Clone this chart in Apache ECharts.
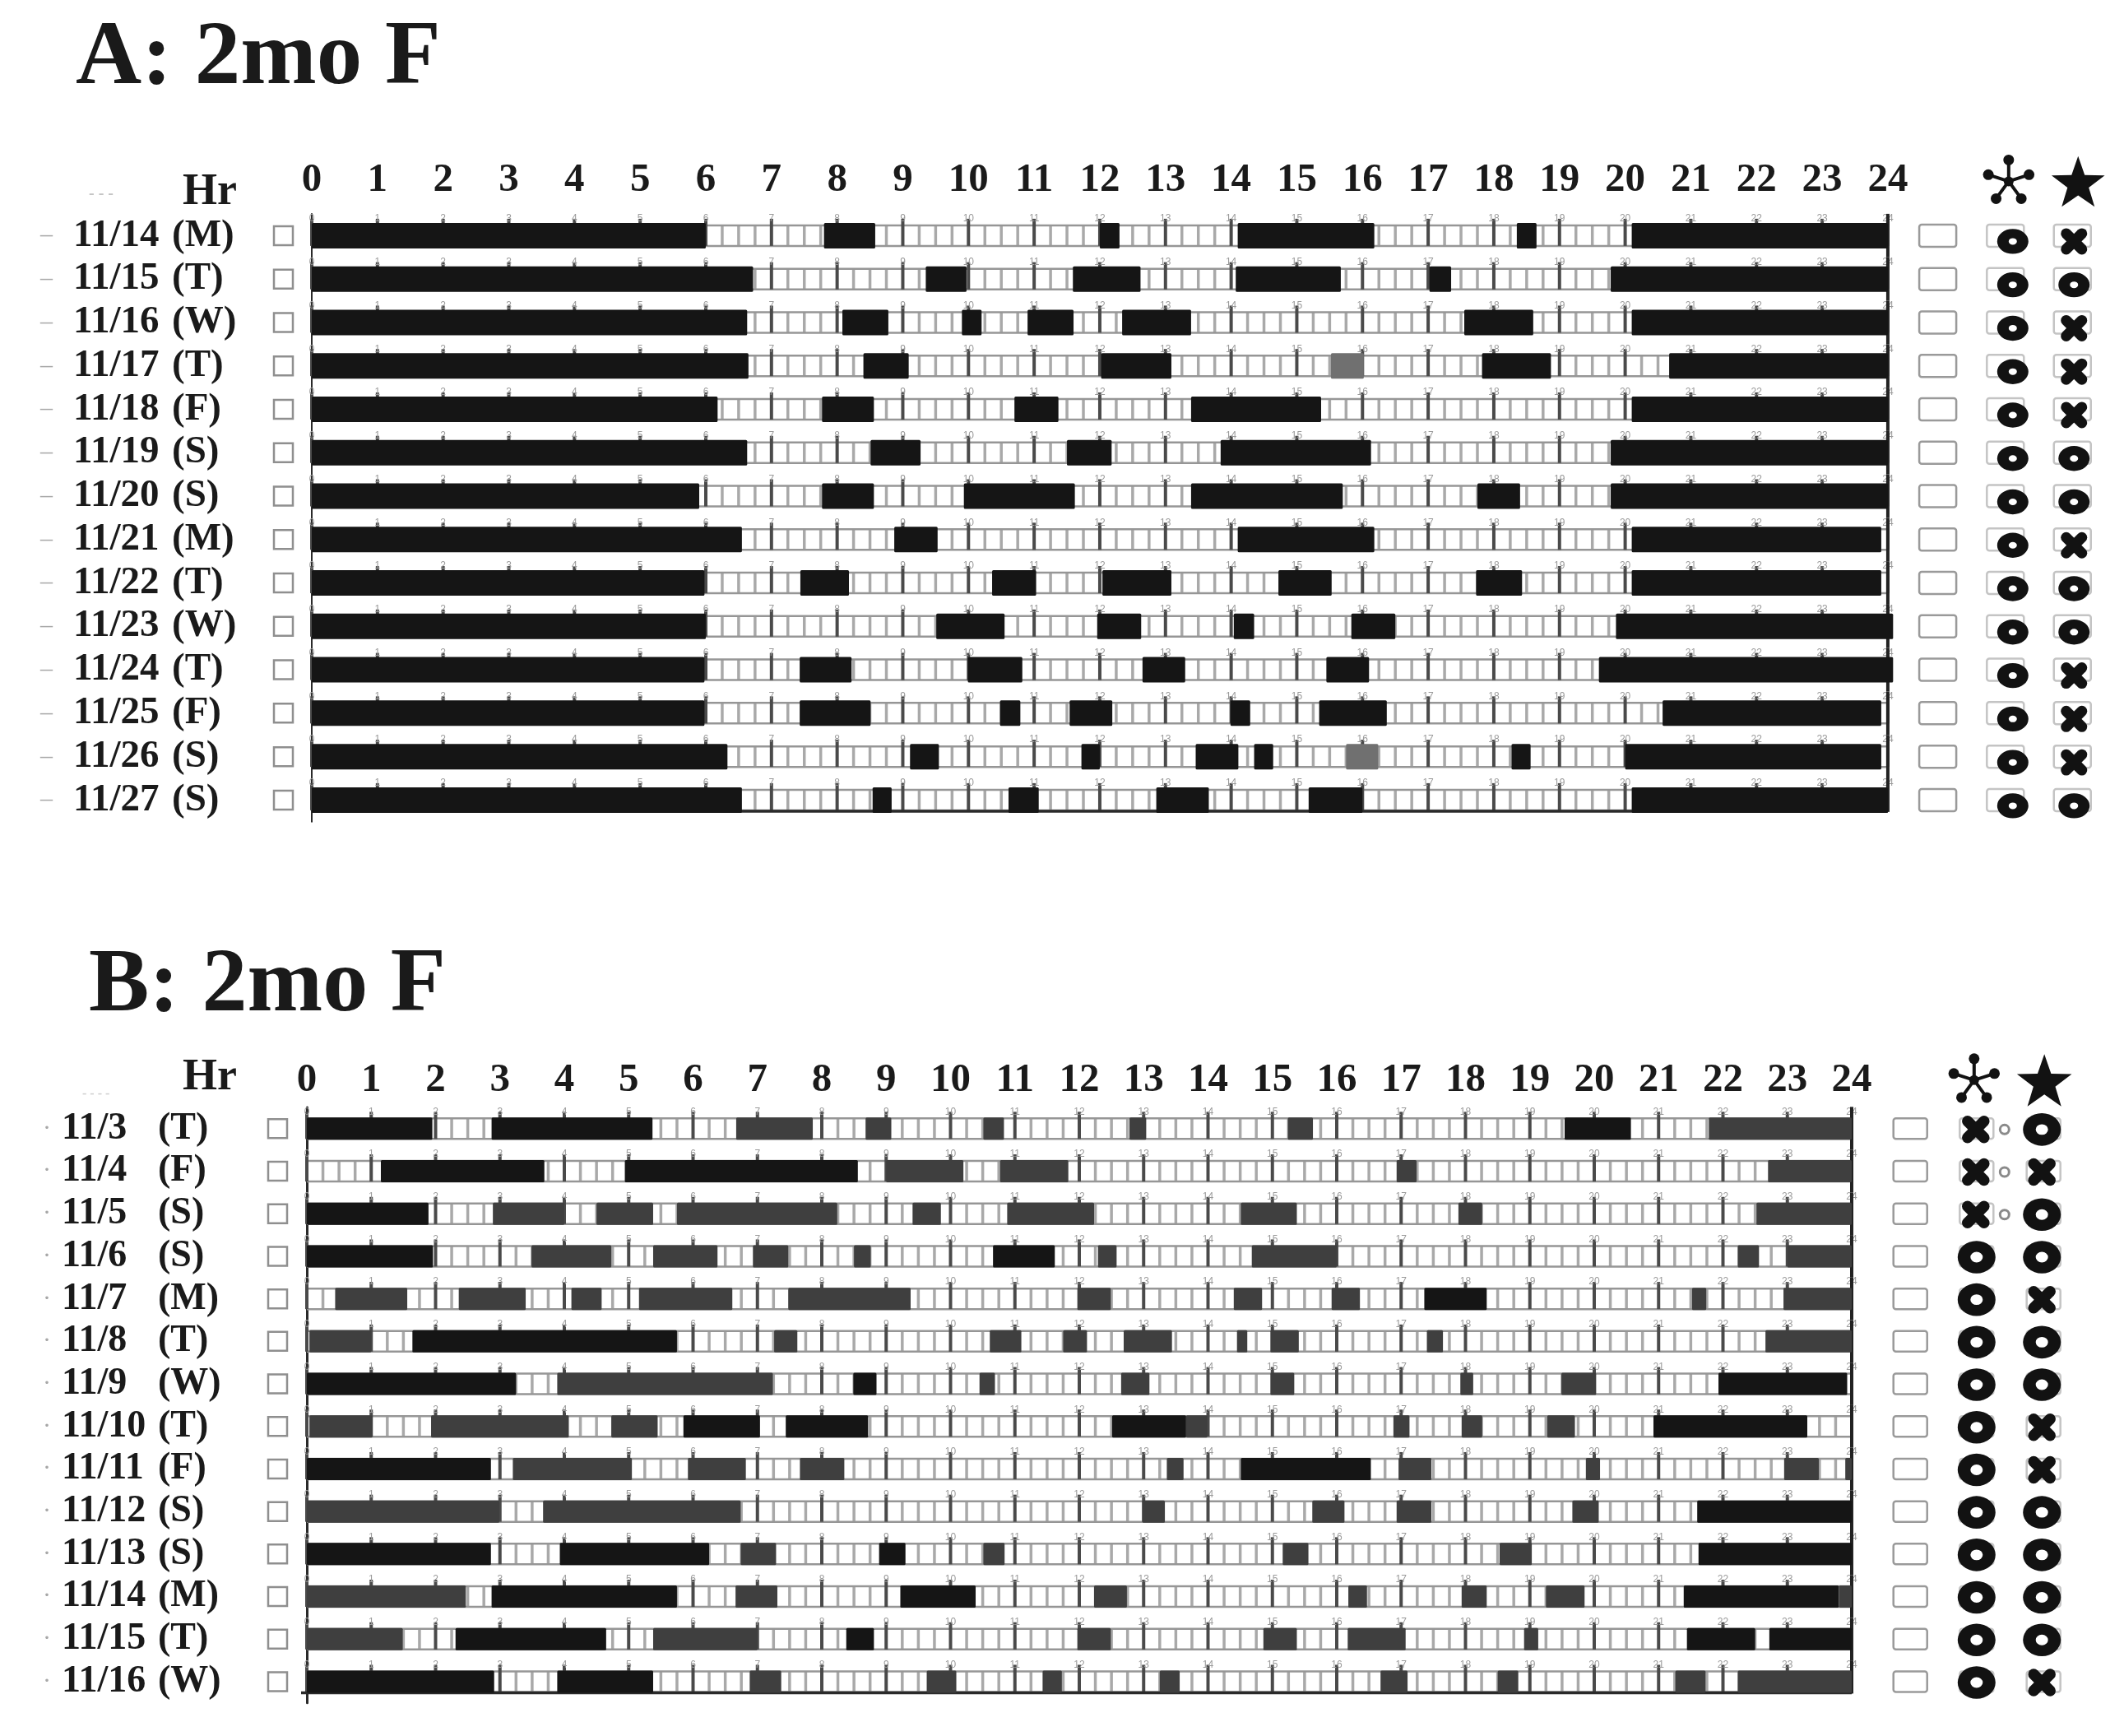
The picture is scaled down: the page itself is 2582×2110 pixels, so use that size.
<!DOCTYPE html>
<html>
<head>
<meta charset="utf-8">
<title>2mo F sleep logs</title>
<script src="https://cdn.jsdelivr.net/npm/echarts@6.0.0/dist/echarts.min.js"></script>
<style>
  html, body { margin: 0; padding: 0; background: #fff; }
  #chart { width: 2582px; height: 2110px; }
</style>
</head>
<body>
<div id="chart"></div>
<script>
// ---- panel A: 11/14 - 11/27 ----
const datesA = ['11/14', '11/15', '11/16', '11/17', '11/18', '11/19', '11/20',
                '11/21', '11/22', '11/23', '11/24', '11/25', '11/26', '11/27'];
const daysA = ['M', 'T', 'W', 'T', 'F', 'S', 'S', 'M', 'T', 'W', 'T', 'F', 'S', 'S'];
// [row, start hour, end hour, shade] shade 0 = black, 1 = grey
const sleepA = [
  [0, 0, 6.0, 0], [0, 7.8, 8.58, 0], [0, 12.0, 12.3, 0], [0, 14.1, 16.18, 0], [0, 18.35, 18.65, 0], [0, 20.1, 24, 0],
  [1, 0, 6.72, 0], [1, 9.35, 9.97, 0], [1, 11.59, 12.62, 0], [1, 14.07, 15.67, 0], [1, 17.02, 17.35, 0], [1, 19.78, 24, 0],
  [2, 0, 6.63, 0], [2, 8.08, 8.78, 0], [2, 9.9, 10.2, 0], [2, 10.9, 11.6, 0], [2, 12.34, 13.39, 0], [2, 17.55, 18.6, 0], [2, 20.1, 24, 0],
  [3, 0, 6.65, 0], [3, 8.4, 9.09, 0], [3, 12.02, 13.09, 0], [3, 15.52, 16.02, 1], [3, 17.82, 18.87, 0], [3, 20.67, 24, 0],
  [4, 0, 6.18, 0], [4, 7.77, 8.56, 0], [4, 10.7, 11.37, 0], [4, 13.39, 15.37, 0], [4, 20.1, 24, 0],
  [5, 0, 6.63, 0], [5, 8.51, 9.27, 0], [5, 11.5, 12.18, 0], [5, 13.84, 16.13, 0], [5, 19.78, 24, 0],
  [6, 0, 5.9, 0], [6, 7.77, 8.56, 0], [6, 9.93, 11.62, 0], [6, 13.39, 15.7, 0], [6, 17.75, 18.4, 0], [6, 19.78, 24, 0],
  [7, 0, 6.55, 0], [7, 8.87, 9.53, 0], [7, 14.1, 16.18, 0], [7, 20.1, 23.9, 0],
  [8, 0, 5.98, 0], [8, 7.44, 8.18, 0], [8, 10.36, 11.03, 0], [8, 12.04, 13.09, 0], [8, 14.72, 15.53, 0], [8, 17.73, 18.43, 0], [8, 20.1, 23.9, 0],
  [9, 0, 6.0, 0], [9, 9.51, 10.55, 0], [9, 11.96, 12.63, 0], [9, 14.04, 14.35, 0], [9, 15.83, 16.5, 0], [9, 19.86, 24.08, 0],
  [10, 0, 5.98, 0], [10, 7.43, 8.22, 0], [10, 9.99, 10.82, 0], [10, 12.65, 13.3, 0], [10, 15.45, 16.1, 0], [10, 19.6, 24.08, 0],
  [11, 0, 5.98, 0], [11, 7.43, 8.51, 0], [11, 10.48, 10.79, 0], [11, 11.54, 12.19, 0], [11, 13.99, 14.29, 0], [11, 15.34, 16.37, 0], [11, 20.57, 23.9, 0],
  [12, 0, 6.33, 0], [12, 9.11, 9.55, 0], [12, 11.72, 12.0, 0], [12, 13.46, 14.11, 0], [12, 14.35, 14.64, 0], [12, 15.75, 16.24, 1], [12, 18.27, 18.56, 0], [12, 20.0, 23.9, 0],
  [13, 0, 6.55, 0], [13, 8.54, 8.83, 0], [13, 10.61, 11.07, 0], [13, 12.86, 13.66, 0], [13, 15.18, 16.0, 0], [13, 20.1, 24, 0]
];
// 'o' ring, 'x' cross, 'xo' cross with small circle
const moleculeA = ['o', 'o', 'o', 'o', 'o', 'o', 'o', 'o', 'o', 'o', 'o', 'o', 'o', 'o'];
const starA = ['x', 'o', 'x', 'x', 'x', 'o', 'o', 'x', 'o', 'o', 'x', 'x', 'x', 'o'];

// ---- panel B: 11/3 - 11/16 ----
const datesB = ['11/3', '11/4', '11/5', '11/6', '11/7', '11/8', '11/9',
                '11/10', '11/11', '11/12', '11/13', '11/14', '11/15', '11/16'];
const daysB = ['T', 'F', 'S', 'S', 'M', 'T', 'W', 'T', 'F', 'S', 'S', 'M', 'T', 'W'];
const sleepB = [
  [0, 0, 1.95, 0], [0, 2.87, 5.37, 0], [0, 6.67, 7.86, 1], [0, 8.68, 9.08, 1], [0, 10.51, 10.83, 1], [0, 12.78, 13.04, 1], [0, 15.24, 15.63, 1], [0, 19.54, 20.57, 0], [0, 21.78, 24, 1],
  [1, 1.15, 3.69, 0], [1, 4.94, 8.56, 0], [1, 9.0, 10.2, 1], [1, 10.77, 11.83, 1], [1, 16.93, 17.24, 1], [1, 22.7, 24, 1],
  [2, 0, 1.89, 0], [2, 2.89, 4.0, 1], [2, 4.5, 5.38, 1], [2, 5.75, 8.24, 1], [2, 9.41, 9.85, 1], [2, 10.88, 12.23, 1], [2, 14.51, 15.38, 1], [2, 17.89, 18.26, 1], [2, 22.52, 24, 1],
  [3, 0, 1.96, 0], [3, 3.49, 4.73, 1], [3, 5.38, 6.38, 1], [3, 6.93, 7.48, 1], [3, 8.5, 8.76, 1], [3, 10.66, 11.62, 0], [3, 12.29, 12.58, 1], [3, 14.68, 16.0, 1], [3, 22.23, 22.56, 1], [3, 23.0, 24, 1],
  [4, 0.44, 1.56, 1], [4, 2.36, 3.4, 1], [4, 4.11, 4.58, 1], [4, 5.16, 6.61, 1], [4, 7.48, 9.38, 1], [4, 11.97, 12.49, 1], [4, 14.4, 14.84, 1], [4, 15.92, 16.36, 1], [4, 17.36, 18.33, 0], [4, 21.52, 21.74, 1], [4, 22.94, 24, 1],
  [5, 0.04, 1.0, 1], [5, 1.64, 5.75, 0], [5, 7.26, 7.62, 1], [5, 10.61, 11.1, 1], [5, 11.75, 12.12, 1], [5, 12.69, 13.44, 1], [5, 14.45, 14.61, 1], [5, 14.97, 15.41, 1], [5, 17.4, 17.65, 1], [5, 22.66, 24, 1],
  [6, 0, 3.25, 0], [6, 3.89, 7.24, 1], [6, 8.49, 8.85, 0], [6, 10.45, 10.69, 1], [6, 12.65, 13.09, 1], [6, 14.97, 15.34, 1], [6, 17.92, 18.12, 1], [6, 19.49, 20.03, 1], [6, 21.93, 23.93, 0],
  [7, 0.04, 1.02, 1], [7, 1.93, 4.07, 1], [7, 4.73, 5.45, 1], [7, 5.85, 7.04, 0], [7, 7.44, 8.72, 0], [7, 12.51, 13.66, 0], [7, 13.66, 13.99, 1], [7, 16.88, 17.13, 1], [7, 17.94, 18.26, 1], [7, 19.27, 19.7, 1], [7, 20.92, 23.31, 0],
  [8, 0, 2.86, 0], [8, 3.2, 5.05, 1], [8, 5.92, 6.82, 1], [8, 7.66, 8.35, 1], [8, 13.36, 13.62, 1], [8, 14.51, 16.53, 0], [8, 16.96, 17.47, 1], [8, 19.87, 20.09, 1], [8, 22.95, 23.49, 1], [8, 23.9, 24, 1],
  [9, 0, 2.99, 1], [9, 3.67, 6.74, 1], [9, 12.98, 13.33, 1], [9, 15.62, 16.12, 1], [9, 16.93, 17.47, 1], [9, 19.66, 20.07, 1], [9, 21.6, 24, 0],
  [10, 0, 2.86, 0], [10, 3.93, 6.25, 0], [10, 6.74, 7.29, 1], [10, 8.89, 9.3, 0], [10, 10.51, 10.84, 1], [10, 15.16, 15.56, 1], [10, 18.53, 19.03, 1], [10, 21.62, 24, 0],
  [11, 0, 2.47, 1], [11, 2.87, 5.75, 0], [11, 6.66, 7.31, 1], [11, 9.22, 10.39, 0], [11, 12.23, 12.74, 1], [11, 16.18, 16.47, 1], [11, 17.94, 18.33, 1], [11, 19.25, 19.85, 1], [11, 21.39, 23.8, 0], [11, 23.8, 24, 1],
  [12, 0, 1.49, 1], [12, 2.31, 4.65, 0], [12, 5.38, 7.0, 1], [12, 8.38, 8.81, 0], [12, 11.97, 12.49, 1], [12, 14.86, 15.38, 1], [12, 16.17, 17.07, 1], [12, 18.91, 19.13, 1], [12, 21.44, 22.5, 0], [12, 22.72, 24, 0],
  [13, 0, 2.91, 0], [13, 3.89, 5.38, 0], [13, 6.88, 7.37, 1], [13, 9.63, 10.09, 1], [13, 11.43, 11.73, 1], [13, 13.25, 13.56, 1], [13, 16.68, 17.1, 1], [13, 18.5, 18.82, 1], [13, 21.26, 21.73, 1], [13, 22.23, 24, 1]
];
const moleculeB = ['xo', 'xo', 'xo', 'o', 'o', 'o', 'o', 'o', 'o', 'o', 'o', 'o', 'o', 'o'];
const starB = ['o', 'x', 'o', 'o', 'x', 'o', 'o', 'x', 'x', 'o', 'o', 'o', 'o', 'x'];

// ---- layout ----
const SERIF = '"Liberation Serif", "DejaVu Serif", serif';
const INK = '#1a1a1a';

const layoutA = {
  left: 379, top: 260, hourPx: 79.83, rowPx: 52.77, xMargin: 41, yMargin: 23,
  barH: 31, trackH: 25, grey: '#707070', leftTail: 0,
  boxX: 24.76, col1X: 25.79, col2X: 26.81, boxW: 45, boxH: 27,
  symDx1: 9, symDx2: 2, symDy: 7, ringR: 19, ringR0: 5, ringSY: 0.8, crossS: 9.5, crossW: 13,
  hdrDy: -66, hdrDx1: 4, hdrDx2: 7, starR: 34,
  dashW: 40, dash: '–', dateW: 120, dayW: 112, spW: 12, labelFont: 47
};
const layoutB = {
  left: 373, top: 1346, hourPx: 78.25, rowPx: 51.7, xMargin: 33, yMargin: 24,
  barH: 27, trackH: 25, grey: '#3f3f3f', leftTail: 7,
  boxX: 24.91, col1X: 25.94, col2X: 26.98, boxW: 41, boxH: 25,
  symDx1: 0, symDx2: -2, symDy: 1, ringR: 23, ringR0: 7.5, ringSY: 0.86, crossS: 10, crossW: 13.5,
  hdrDy: -59, hdrDx1: -3, hdrDx2: 1, starR: 35,
  dashW: 23, dash: '·', dateW: 117, dayW: 110, spW: 24, labelFont: 46
};

function trackRenderer(L, nRows) {
  return function (params, api) {
    const row = api.value(1);
    const c0 = api.coord([0, row]);
    const c24 = api.coord([24, row]);
    const band = api.size([0, 1])[1];
    const cy = c0[1];
    const top = cy - L.trackH / 2;
    const bot = cy + L.trackH / 2;
    const kids = [];
    // 15 minute cells
    for (let q = 1; q < 96; q++) {
      if (q % 4 === 0) continue;
      const x = api.coord([q / 4, row])[0];
      kids.push({ type: 'line', shape: { x1: x, y1: top, x2: x, y2: bot },
        style: { stroke: '#a9a9a9', lineWidth: 3.5 } });
    }
    kids.push({ type: 'line', shape: { x1: c0[0], y1: top, x2: c24[0], y2: top },
      style: { stroke: '#969696', lineWidth: 2.5 } });
    kids.push({ type: 'line', shape: { x1: c0[0], y1: bot, x2: c24[0], y2: bot },
      style: { stroke: '#969696', lineWidth: 2.5 } });
    // hour ticks with their small numbers
    for (let h = 0; h <= 24; h++) {
      const x = api.coord([h, row])[0];
      kids.push({ type: 'line', shape: { x1: x, y1: top - 8, x2: x, y2: bot },
        style: { stroke: '#4a4a4a', lineWidth: 4 } });
      kids.push({ type: 'text', x: x, y: top - 8,
        style: { text: String(h), fontSize: 12, fontFamily: 'Liberation Sans', fill: '#9a9a9a',
          align: 'center', verticalAlign: 'middle' } });
    }
    if (row === nRows - 1) {
      kids.push({ type: 'line', shape: { x1: c0[0] - L.leftTail, y1: bot + 1, x2: c24[0], y2: bot + 1 },
        style: { stroke: '#2a2a2a', lineWidth: 3.5 } });
    }
    // right border at 24 h
    const yA = row === 0 ? top - 14 : cy - band / 2;
    const yB = row === nRows - 1 ? bot + 2 : cy + band / 2;
    kids.push({ type: 'line', shape: { x1: c24[0], y1: yA, x2: c24[0], y2: yB },
      style: { stroke: '#222', lineWidth: 4 } });
    return { type: 'group', children: kids };
  };
}

function sleepRenderer(L) {
  return function (params, api) {
    const row = api.value(2);
    const p0 = api.coord([api.value(0), row]);
    const p1 = api.coord([api.value(1), row]);
    return {
      type: 'rect',
      shape: { x: p0[0], y: p0[1] - L.barH / 2, width: p1[0] - p0[0], height: L.barH, r: 1.5 },
      style: { fill: api.value(3) === 1 ? L.grey : '#151515' }
    };
  };
}

function ringEl(x, y, L) {
  return { type: 'group', x: x, y: y, scaleY: L.ringSY, children: [
    { type: 'ring', shape: { cx: 0, cy: 0, r: L.ringR, r0: L.ringR0 }, style: { fill: '#121212' } }
  ] };
}
function crossEl(x, y, L) {
  const s = L.crossS;
  const st = { stroke: '#121212', lineWidth: L.crossW, lineCap: 'round' };
  return { type: 'group', children: [
    { type: 'line', shape: { x1: x - s, y1: y - s, x2: x + s, y2: y + s }, style: st },
    { type: 'line', shape: { x1: x - s, y1: y + s, x2: x + s, y2: y - s }, style: st }
  ] };
}
function markEl(code, x, y, L) {
  if (code === 'o') return ringEl(x, y, L);
  if (code === 'x') return crossEl(x, y, L);
  return { type: 'group', children: [
    crossEl(x - 1, y, L),
    { type: 'ring', shape: { cx: x + 34, cy: y, r: 7, r0: 4 }, style: { fill: '#8a8a8a' } }
  ] };
}
function moleculeEl(x, y) {
  const kids = [];
  const R = 26;
  for (let k = 0; k < 5; k++) {
    const a = (-90 + k * 72) * Math.PI / 180;
    const ex = x + R * Math.cos(a), ey = y + R * Math.sin(a);
    kids.push({ type: 'line', shape: { x1: x, y1: y, x2: ex, y2: ey }, style: { stroke: '#121212', lineWidth: 4 } });
    kids.push({ type: 'circle', shape: { cx: ex, cy: ey, r: 6.5 }, style: { fill: '#121212' } });
  }
  kids.push({ type: 'circle', shape: { cx: x, cy: y, r: 6 }, style: { fill: '#121212' } });
  return { type: 'group', children: kids };
}
function starEl(x, y, R) {
  const pts = [];
  for (let k = 0; k < 10; k++) {
    const a = (-90 + k * 36) * Math.PI / 180;
    const r = k % 2 === 0 ? R : R * 0.4;
    pts.push([x + r * Math.cos(a), y + r * Math.sin(a) + R * 0.1]);
  }
  return { type: 'polygon', shape: { points: pts }, style: { fill: '#121212' } };
}

function symbolRenderer(L, col1, col2) {
  return function (params, api) {
    const i = params.dataIndex;
    const cy = api.coord([0, i])[1];
    const xb = api.coord([L.boxX, i])[0];
    const x1 = api.coord([L.col1X, i])[0];
    const x2 = api.coord([L.col2X, i])[0];
    const boxStyle = { fill: 'none', stroke: '#9a9a9a', lineWidth: 2.5 };
    const faint = { fill: 'none', stroke: '#c4c4c4', lineWidth: 2.5 };
    const kids = [
      { type: 'rect', shape: { x: xb - L.boxW / 2, y: cy - L.boxH / 2, width: L.boxW, height: L.boxH, r: 3 }, style: boxStyle },
      { type: 'rect', shape: { x: x1 - L.boxW / 2, y: cy - L.boxH / 2, width: L.boxW, height: L.boxH, r: 3 }, style: faint },
      { type: 'rect', shape: { x: x2 - L.boxW / 2, y: cy - L.boxH / 2, width: L.boxW, height: L.boxH, r: 3 }, style: faint },
      markEl(col1[i], x1 + L.symDx1, cy + L.symDy, L),
      markEl(col2[i], x2 + L.symDx2, cy + L.symDy, L)
    ];
    if (i === 0) {
      kids.push(moleculeEl(x1 + L.hdrDx1, cy + L.hdrDy));
      kids.push(starEl(x2 + L.hdrDx2, cy + L.hdrDy, L.starR));
    }
    return { type: 'group', children: kids };
  };
}

function labelRich(L) {
  const txt = { fontSize: L.labelFont, fontWeight: 'bold', fontFamily: SERIF, color: INK, align: 'left', verticalAlign: 'middle' };
  return {
    dash: { width: L.dashW, fontSize: 30, color: '#a8a8a8', fontFamily: SERIF, align: 'left', verticalAlign: 'middle' },
    date: Object.assign({ width: L.dateW }, txt),
    day: Object.assign({ width: L.dayW }, txt),
    sp: { width: L.spW, fontSize: 10 },
    box: { width: 23, height: 23, borderColor: '#8f8f8f', borderWidth: 2.5, verticalAlign: 'middle' }
  };
}

function gridOf(L) {
  return { left: L.left, top: L.top, width: 27.5 * L.hourPx, height: 14 * L.rowPx,
    containLabel: false, outerBoundsMode: 'none' };
}
function xAxisOf(idx, L) {
  return {
    type: 'value', gridIndex: idx, min: 0, max: 27.5, interval: 1, position: 'top',
    axisLine: { show: false }, axisTick: { show: false }, splitLine: { show: false },
    axisLabel: {
      margin: L.xMargin, verticalAlign: 'middle', fontSize: 49, fontWeight: 'bold',
      fontFamily: SERIF, color: INK,
      formatter: v => (v <= 24 && Number.isInteger(v)) ? String(v) : ''
    }
  };
}
function yAxisOf(idx, L, dates, days) {
  return {
    type: 'category', gridIndex: idx, data: dates, inverse: true,
    axisLine: { show: true, lineStyle: { color: '#2a2a2a', width: idx === 0 ? 2 : 3 } },
    axisTick: { show: false }, splitLine: { show: false },
    axisLabel: {
      margin: L.yMargin, interval: 0,
      formatter: (value, k) => `{dash|${L.dash}}{date|${value}}{day|(${days[k]})}{sp| }{box| }`,
      rich: labelRich(L)
    }
  };
}

const chart = echarts.init(document.getElementById('chart'));

const headText = (text, x, y, size, color) => ({
  type: 'text', x: x, y: y,
  style: { text: text, fontSize: size, fontWeight: 'bold', fontFamily: SERIF, fill: color || INK,
    align: 'left', verticalAlign: 'middle' }
});

const option = {
  backgroundColor: '#ffffff',
  animation: false,
  grid: [gridOf(layoutA), gridOf(layoutB)],
  xAxis: [xAxisOf(0, layoutA), xAxisOf(1, layoutB)],
  yAxis: [yAxisOf(0, layoutA, datesA, daysA), yAxisOf(1, layoutB, datesB, daysB)],
  graphic: [
    headText('A: 2mo F', 92, 72, 111),
    headText('B: 2mo F', 108, 1200, 110),
    headText('Hr', 222, 234, 54),
    headText('Hr', 222, 1310, 54),
    headText('- - -', 108, 236, 20, '#c4c4c4'),
    headText('- - - -', 100, 1330, 16, '#cfcfcf')
  ],
  series: [
    { type: 'custom', name: 'trackA', xAxisIndex: 0, yAxisIndex: 0, z: 2,
      data: datesA.map((d, i) => [0, i]), encode: { x: 0, y: 1 },
      renderItem: trackRenderer(layoutA, datesA.length) },
    { type: 'custom', name: 'sleepA', xAxisIndex: 0, yAxisIndex: 0, z: 3,
      data: sleepA.map(s => [s[1], s[2], s[0], s[3]]), encode: { x: [0, 1], y: 2 },
      renderItem: sleepRenderer(layoutA) },
    { type: 'custom', name: 'marksA', xAxisIndex: 0, yAxisIndex: 0, z: 4,
      data: datesA.map((d, i) => [24, i]), encode: { x: 0, y: 1 },
      renderItem: symbolRenderer(layoutA, moleculeA, starA) },
    { type: 'custom', name: 'trackB', xAxisIndex: 1, yAxisIndex: 1, z: 2,
      data: datesB.map((d, i) => [0, i]), encode: { x: 0, y: 1 },
      renderItem: trackRenderer(layoutB, datesB.length) },
    { type: 'custom', name: 'sleepB', xAxisIndex: 1, yAxisIndex: 1, z: 3,
      data: sleepB.map(s => [s[1], s[2], s[0], s[3]]), encode: { x: [0, 1], y: 2 },
      renderItem: sleepRenderer(layoutB) },
    { type: 'custom', name: 'marksB', xAxisIndex: 1, yAxisIndex: 1, z: 4,
      data: datesB.map((d, i) => [24, i]), encode: { x: 0, y: 1 },
      renderItem: symbolRenderer(layoutB, moleculeB, starB) }
  ]
};

chart.setOption(option);
</script>
</body>
</html>
